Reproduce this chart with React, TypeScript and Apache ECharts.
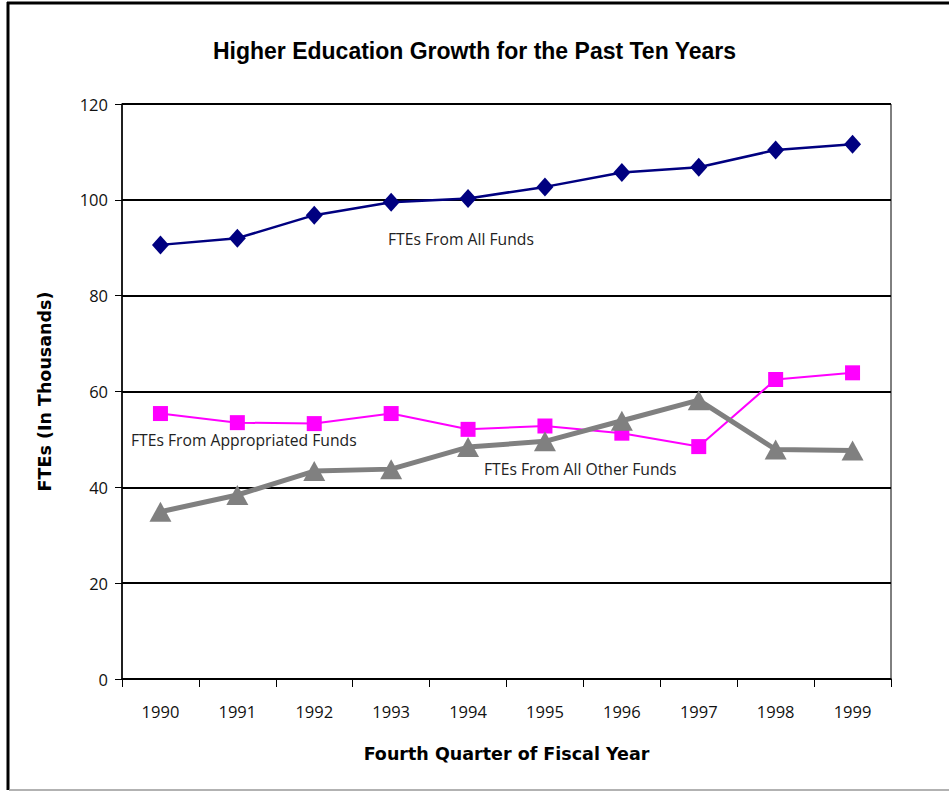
import React, { useEffect, useRef } from "react";
import * as echarts from "echarts";

const years = ["1990", "1991", "1992", "1993", "1994", "1995", "1996", "1997", "1998", "1999"];
const allFunds = [90.6, 92.0, 96.8, 99.5, 100.3, 102.7, 105.7, 106.8, 110.4, 111.6];
const appropriatedFunds = [55.4, 53.5, 53.3, 55.4, 52.1, 52.8, 51.3, 48.5, 62.5, 63.9];
const otherFunds = [34.9, 38.4, 43.4, 43.8, 48.4, 49.6, 53.9, 58.2, 47.9, 47.7];
const seriesNames = ["FTEs From All Funds", "FTEs From Appropriated Funds", "FTEs From All Other Funds"];

export default function App() {
  const ref = useRef<HTMLDivElement>(null);
  useEffect(() => {
    if (!ref.current) return;
    const chart = echarts.init(ref.current, null, { renderer: "svg" });
    const labelFont = "'Open Sans', 'DejaVu Sans', sans-serif";
    const boldFont = "'DejaVu Sans', 'Liberation Sans', sans-serif";
    chart.setOption({
      animation: false,
      backgroundColor: "#fff",
      title: {
        text: "Higher Education Growth for the Past Ten Years",
        left: "center",
        top: 34,
        textStyle: { fontFamily: "'Liberation Sans', Arial, sans-serif", fontSize: 23, fontWeight: "bold", color: "#000" },
      },
      grid: { left: 122, right: 58, top: 104, bottom: 112, show: true, borderColor: "#000", borderWidth: 1, backgroundColor: "transparent" },
      xAxis: {
        type: "category",
        data: years,
        boundaryGap: true,
        name: "Fourth Quarter of Fiscal Year",
        nameLocation: "middle",
        nameGap: 66,
        nameTextStyle: { fontFamily: boldFont, fontSize: 17.5, fontWeight: "bold", color: "#000" },
        axisLine: { lineStyle: { color: "#000", width: 1.5 } },
        axisTick: { show: true, length: 8, lineStyle: { color: "#000" } },
        axisLabel: { fontFamily: labelFont, fontSize: 16.5, color: "#111", margin: 24 },
        splitLine: { show: false },
      },
      yAxis: {
        type: "value",
        min: 0,
        max: 120,
        interval: 20,
        name: "FTEs (In Thousands)",
        nameLocation: "middle",
        nameGap: 68,
        nameRotate: 90,
        nameTextStyle: { fontFamily: boldFont, fontSize: 17.5, fontWeight: "bold", color: "#000" },
        axisLine: { show: true, lineStyle: { color: "#000", width: 1.5 } },
        axisTick: { show: true, length: 7, lineStyle: { color: "#000" } },
        axisLabel: { fontFamily: labelFont, fontSize: 16.5, color: "#111", margin: 14 },
        splitLine: { show: true, lineStyle: { color: "#000", width: 2 } },
      },
      series: [
        {
          name: seriesNames[0],
          type: "line",
          data: allFunds,
          symbol: "diamond",
          symbolSize: [17, 19],
          lineStyle: { color: "#000080", width: 2.5 },
          itemStyle: { color: "#000080" },
          z: 3,
        },
        {
          name: seriesNames[1],
          type: "line",
          data: appropriatedFunds,
          symbol: "rect",
          symbolSize: 15,
          lineStyle: { color: "#FF00FF", width: 2 },
          itemStyle: { color: "#FF00FF" },
          z: 4,
        },
        {
          name: seriesNames[2],
          type: "line",
          data: otherFunds,
          symbol: "triangle",
          symbolSize: [22, 20],
          lineStyle: { color: "#808080", width: 5 },
          itemStyle: { color: "#808080" },
          z: 5,
        },
      ],
      graphic: [
        { type: "line", shape: { x1: 8, y1: 2, x2: 8, y2: 790 }, style: { stroke: "#000", lineWidth: 3 } },
        { type: "line", shape: { x1: 7, y1: 3, x2: 949, y2: 3 }, style: { stroke: "#000", lineWidth: 3 } },
        { type: "line", shape: { x1: 9, y1: 790, x2: 949, y2: 790 }, style: { stroke: "#999", lineWidth: 1.5 } },
        { type: "text", left: 388, top: 231, style: { text: seriesNames[0], fontFamily: labelFont, fontSize: 15.7, fill: "#222" } },
        { type: "text", left: 131, top: 432, style: { text: seriesNames[1], fontFamily: labelFont, fontSize: 15.7, fill: "#222" } },
        { type: "text", left: 484, top: 461, style: { text: seriesNames[2], fontFamily: labelFont, fontSize: 15.7, fill: "#222" } },
      ],
    });
    return () => chart.dispose();
  }, []);
  return <div ref={ref} style={{ position: "fixed", left: 0, top: 0, width: 949, height: 791 }} />;
}
